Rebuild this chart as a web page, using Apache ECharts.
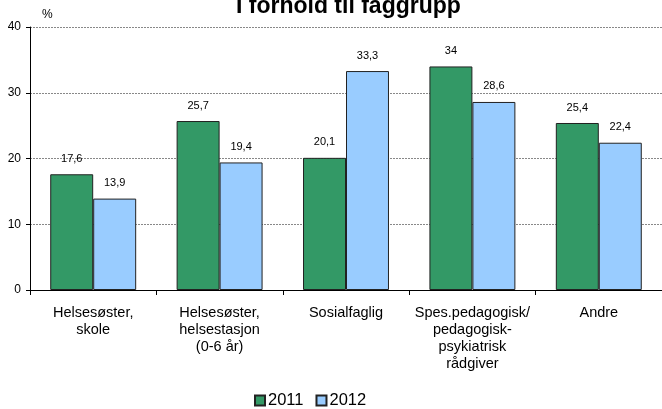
<!DOCTYPE html>
<html><head><meta charset="utf-8">
<script src="https://cdn.jsdelivr.net/npm/echarts@6/dist/echarts.min.js"></script>
<style>html,body{margin:0;padding:0;background:#fff}#c{width:662px;height:409px}</style>
</head><body><div id="c"></div>
<script>
const categories = ["Helsesøster,\nskole", "Helsesøster,\nhelsestasjon\n(0-6 år)", "Sosialfaglig", "Spes.pedagogisk/\npedagogisk-\npsykiatrisk\nrådgiver", "Andre"];
const values2011 = [17.6, 25.7, 20.1, 34, 25.4];
const values2012 = [13.9, 19.4, 33.3, 28.6, 22.4];
const seriesNames = ["2011", "2012"];
const chart = echarts.init(document.getElementById('c'));
const font = "Liberation Sans, Arial, sans-serif";
const lbl = {show: true, position: 'top', distance: 10, color: '#000', fontSize: 11, fontFamily: font,
  formatter: p => String(p.value).replace('.', ',')};
chart.setOption({
  animation: false,
  title: {text: 'I forhold til faggrupp', left: 231, top: -10,
    textStyle: {fontFamily: font, fontSize: 23, fontWeight: 'bold', color: '#000'}},
  grid: {left: 30, right: 0, top: 27, bottom: 119},
  legend: {data: seriesNames, left: 249, top: 387, itemWidth: 10, itemHeight: 10, itemGap: 12,
    textStyle: {fontFamily: font, fontSize: 16.5, color: '#000', padding: [0,0,0,-2]},
    icon: 'rect'},
  xAxis: {type: 'category', data: categories,
    axisLine: {lineStyle: {color: '#000'}},
    axisTick: {show: true, length: 5, lineStyle: {color: '#000'}},
    axisLabel: {fontFamily: font, fontSize: 14.5, color: '#000', lineHeight: 17, margin: 14, interval: 0}},
  yAxis: {type: 'value', min: 0, max: 40, interval: 10, name: '%',
    nameLocation: 'end', nameGap: 6,
    nameTextStyle: {fontFamily: font, fontSize: 12, color: '#000', align: 'left', padding: [0,0,0,12]},
    axisLine: {show: true, lineStyle: {color: '#000'}},
    axisTick: {show: true, length: 4, inside: false, lineStyle: {color: '#000'}},
    axisLabel: {fontFamily: font, fontSize: 12, color: '#000', margin: 9},
    splitLine: {lineStyle: {color: '#888', type: [2, 1]}}},
  series: [
    {name: seriesNames[0], type: 'bar', data: values2011, barGap: '0%', barCategoryGap: '32%',
      itemStyle: {color: '#339966', borderColor: '#222', borderWidth: 1}, label: lbl},
    {name: seriesNames[1], type: 'bar', data: values2012,
      itemStyle: {color: '#99CCFF', borderColor: '#222', borderWidth: 1}, label: lbl}
  ]
});
</script></body></html>
